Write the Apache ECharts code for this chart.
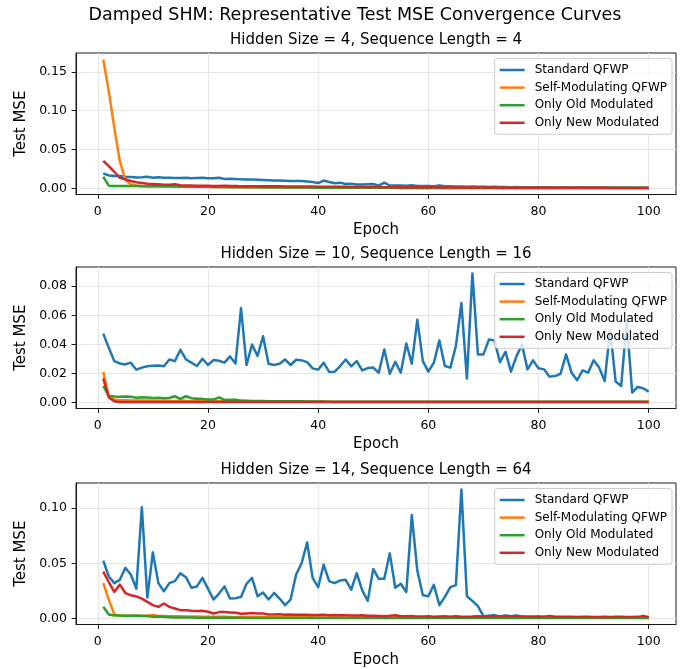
<!DOCTYPE html>
<html>
<head>
<meta charset="utf-8">
<script src="https://cdn.jsdelivr.net/npm/echarts@6/dist/echarts.min.js"></script>
<style>
  html, body { margin: 0; padding: 0; background: #ffffff; }
  #chart { width: 686px; height: 669px; }
</style>
</head>
<body>
<div id="chart"></div>
<script>
// Epoch index shared by every run
const epochs = Array.from({ length: 100 }, (_, i) => i + 1);

const seriesNames = ['Standard QFWP', 'Self-Modulating QFWP', 'Only Old Modulated', 'Only New Modulated'];
const panelTitles = [
  'Hidden Size = 4, Sequence Length = 4',
  'Hidden Size = 10, Sequence Length = 16',
  'Hidden Size = 14, Sequence Length = 64'
];
const xTicks = [0, 20, 40, 60, 80, 100];
const yTicks1 = [0, 0.05, 0.10, 0.15];
const yTicks2 = [0, 0.02, 0.04, 0.06, 0.08];
const yTicks3 = [0, 0.05, 0.10];

// ---- Hidden 4 / Seq 4 ----
const std1 = [
  0.0191, 0.0166, 0.0157, 0.0157, 0.0149, 0.0147, 0.0140, 0.0141, 0.0149, 0.0136,
  0.0143, 0.0136, 0.0137, 0.0132, 0.0133, 0.0137, 0.0128, 0.0133, 0.0136, 0.0131,
  0.0128, 0.0135, 0.0120, 0.0123, 0.0119, 0.0115, 0.0114, 0.0112, 0.0109, 0.0106,
  0.0104, 0.0102, 0.0100, 0.0097, 0.0094, 0.0093, 0.0095, 0.0088, 0.0082, 0.0068,
  0.0100, 0.0082, 0.0066, 0.0073, 0.0056, 0.0058, 0.0050, 0.0050, 0.0053, 0.0055,
  0.0034, 0.0072, 0.0036, 0.0035, 0.0036, 0.0033, 0.0038, 0.0030, 0.0031, 0.0030,
  0.0027, 0.0036, 0.0026, 0.0025, 0.0022, 0.0023, 0.0021, 0.0022, 0.0019, 0.0020,
  0.0018, 0.0021, 0.0017, 0.0016, 0.0015, 0.0016, 0.0014, 0.0015, 0.0013, 0.0013,
  0.0012, 0.0013, 0.0011, 0.0012, 0.0010, 0.0011, 0.0010, 0.0012, 0.0010, 0.0015,
  0.0011, 0.0009, 0.0010, 0.0009, 0.0008, 0.0009, 0.0008, 0.0008, 0.0007, 0.0007
];
const self1 = [
  0.1660, 0.1250, 0.0780, 0.0350, 0.0110, 0.0050, 0.0035, 0.0030, 0.0028, 0.0026,
  0.0025, 0.0024, 0.0023, 0.0022, 0.0022, 0.0021, 0.0020, 0.0020, 0.0019, 0.0019,
  0.0018, 0.0018, 0.0017, 0.0017, 0.0016, 0.0016, 0.0015, 0.0015, 0.0014, 0.0014,
  0.0013, 0.0013, 0.0012, 0.0012, 0.0011, 0.0011, 0.0010, 0.0010, 0.0009, 0.0009,
  0.0009, 0.0008, 0.0008, 0.0008, 0.0007, 0.0007, 0.0007, 0.0007, 0.0006, 0.0006,
  0.0006, 0.0006, 0.0006, 0.0005, 0.0005, 0.0005, 0.0005, 0.0005, 0.0005, 0.0005,
  0.0004, 0.0004, 0.0004, 0.0004, 0.0004, 0.0004, 0.0004, 0.0004, 0.0004, 0.0004,
  0.0003, 0.0003, 0.0003, 0.0003, 0.0003, 0.0003, 0.0003, 0.0003, 0.0003, 0.0003,
  0.0003, 0.0003, 0.0003, 0.0003, 0.0003, 0.0003, 0.0003, 0.0003, 0.0003, 0.0003,
  0.0003, 0.0003, 0.0003, 0.0003, 0.0003, 0.0003, 0.0003, 0.0003, 0.0003, 0.0003
];
const old1 = [
  0.0149, 0.0034, 0.0031, 0.0030, 0.0030, 0.0029, 0.0029, 0.0028, 0.0028, 0.0027,
  0.0026, 0.0025, 0.0025, 0.0024, 0.0023, 0.0023, 0.0022, 0.0021, 0.0021, 0.0020,
  0.0018, 0.0017, 0.0016, 0.0015, 0.0014, 0.0013, 0.0013, 0.0012, 0.0012, 0.0011,
  0.0011, 0.0010, 0.0010, 0.0010, 0.0009, 0.0009, 0.0009, 0.0009, 0.0008, 0.0008,
  0.0008, 0.0008, 0.0007, 0.0007, 0.0007, 0.0007, 0.0007, 0.0006, 0.0006, 0.0006,
  0.0006, 0.0006, 0.0006, 0.0006, 0.0005, 0.0005, 0.0005, 0.0005, 0.0005, 0.0005,
  0.0005, 0.0005, 0.0005, 0.0005, 0.0005, 0.0005, 0.0004, 0.0004, 0.0004, 0.0004,
  0.0004, 0.0004, 0.0004, 0.0004, 0.0004, 0.0004, 0.0004, 0.0004, 0.0004, 0.0004,
  0.0004, 0.0004, 0.0004, 0.0004, 0.0004, 0.0004, 0.0004, 0.0004, 0.0004, 0.0004,
  0.0004, 0.0004, 0.0004, 0.0004, 0.0004, 0.0004, 0.0004, 0.0004, 0.0004, 0.0004
];
const new1 = [
  0.0353, 0.0285, 0.0213, 0.0136, 0.0115, 0.0094, 0.0077, 0.0068, 0.0060, 0.0055,
  0.0051, 0.0047, 0.0045, 0.0052, 0.0040, 0.0036, 0.0035, 0.0034, 0.0034, 0.0033,
  0.0031, 0.0030, 0.0033, 0.0029, 0.0029, 0.0028, 0.0028, 0.0027, 0.0027, 0.0026,
  0.0026, 0.0025, 0.0025, 0.0024, 0.0024, 0.0023, 0.0023, 0.0022, 0.0022, 0.0021,
  0.0021, 0.0020, 0.0020, 0.0019, 0.0019, 0.0018, 0.0018, 0.0017, 0.0017, 0.0016,
  0.0016, 0.0015, 0.0015, 0.0014, 0.0014, 0.0014, 0.0013, 0.0013, 0.0012, 0.0012,
  0.0012, 0.0011, 0.0011, 0.0011, 0.0010, 0.0010, 0.0010, 0.0010, 0.0009, 0.0009,
  0.0009, 0.0009, 0.0008, 0.0008, 0.0008, 0.0008, 0.0008, 0.0007, 0.0007, 0.0007,
  0.0007, 0.0007, 0.0007, 0.0006, 0.0006, 0.0006, 0.0006, 0.0006, 0.0006, 0.0006,
  0.0006, 0.0006, 0.0005, 0.0005, 0.0005, 0.0005, 0.0005, 0.0005, 0.0005, 0.0005
];

// ---- Hidden 10 / Seq 16 ----
const std2 = [
  0.0474, 0.0376, 0.0285, 0.0269, 0.0262, 0.0274, 0.0226, 0.0240, 0.0249, 0.0253,
  0.0255, 0.0249, 0.0296, 0.0285, 0.0363, 0.0296, 0.0274, 0.0251, 0.0301, 0.0258,
  0.0292, 0.0287, 0.0274, 0.0317, 0.0269, 0.0650, 0.0258, 0.0399, 0.0320, 0.0456,
  0.0267, 0.0258, 0.0267, 0.0296, 0.0258, 0.0294, 0.0290, 0.0278, 0.0235, 0.0226,
  0.0274, 0.0210, 0.0212, 0.0251, 0.0296, 0.0249, 0.0285, 0.0221, 0.0237, 0.0240,
  0.0205, 0.0365, 0.0198, 0.0280, 0.0205, 0.0406, 0.0267, 0.0570, 0.0285, 0.0212,
  0.0274, 0.0426, 0.0251, 0.0240, 0.0388, 0.0684, 0.0164, 0.0888, 0.0331, 0.0331,
  0.0433, 0.0426, 0.0278, 0.0349, 0.0212, 0.0319, 0.0399, 0.0228, 0.0290, 0.0235,
  0.0228, 0.0178, 0.0182, 0.0198, 0.0331, 0.0205, 0.0153, 0.0221, 0.0205, 0.0290,
  0.0240, 0.0148, 0.0500, 0.0144, 0.0114, 0.0560, 0.0068, 0.0107, 0.0098, 0.0075
];
const self2 = [
  0.0210, 0.0042, 0.0020, 0.0016, 0.0015, 0.0014, 0.0014, 0.0013, 0.0013, 0.0012,
  0.0012, 0.0012, 0.0011, 0.0011, 0.0013, 0.0010, 0.0010, 0.0010, 0.0009, 0.0009,
  0.0009, 0.0008, 0.0008, 0.0008, 0.0008, 0.0007, 0.0007, 0.0007, 0.0007, 0.0006,
  0.0006, 0.0006, 0.0006, 0.0006, 0.0005, 0.0005, 0.0005, 0.0005, 0.0005, 0.0005,
  0.0005, 0.0005, 0.0004, 0.0004, 0.0004, 0.0004, 0.0004, 0.0004, 0.0004, 0.0004,
  0.0004, 0.0004, 0.0004, 0.0004, 0.0004, 0.0004, 0.0004, 0.0004, 0.0004, 0.0004,
  0.0004, 0.0004, 0.0004, 0.0004, 0.0004, 0.0004, 0.0004, 0.0004, 0.0004, 0.0004,
  0.0004, 0.0004, 0.0004, 0.0004, 0.0004, 0.0004, 0.0004, 0.0004, 0.0004, 0.0004,
  0.0004, 0.0004, 0.0004, 0.0004, 0.0004, 0.0004, 0.0004, 0.0004, 0.0004, 0.0004,
  0.0004, 0.0004, 0.0004, 0.0004, 0.0004, 0.0004, 0.0004, 0.0004, 0.0004, 0.0004
];
const old2 = [
  0.0114, 0.0046, 0.0042, 0.0040, 0.0041, 0.0039, 0.0033, 0.0036, 0.0034, 0.0031,
  0.0033, 0.0029, 0.0031, 0.0043, 0.0025, 0.0043, 0.0030, 0.0026, 0.0025, 0.0021,
  0.0020, 0.0035, 0.0018, 0.0019, 0.0019, 0.0013, 0.0012, 0.0011, 0.0010, 0.0010,
  0.0009, 0.0009, 0.0009, 0.0008, 0.0008, 0.0008, 0.0008, 0.0007, 0.0007, 0.0007,
  0.0007, 0.0006, 0.0006, 0.0006, 0.0006, 0.0006, 0.0006, 0.0005, 0.0005, 0.0005,
  0.0005, 0.0005, 0.0005, 0.0005, 0.0005, 0.0005, 0.0005, 0.0005, 0.0005, 0.0005,
  0.0005, 0.0005, 0.0005, 0.0005, 0.0005, 0.0005, 0.0005, 0.0005, 0.0005, 0.0005,
  0.0005, 0.0005, 0.0005, 0.0005, 0.0005, 0.0005, 0.0005, 0.0005, 0.0005, 0.0005,
  0.0005, 0.0005, 0.0005, 0.0005, 0.0005, 0.0005, 0.0005, 0.0005, 0.0005, 0.0005,
  0.0005, 0.0005, 0.0005, 0.0005, 0.0005, 0.0005, 0.0005, 0.0005, 0.0005, 0.0005
];
const new2 = [
  0.0165, 0.0035, 0.0008, 0.0004, 0.0004, 0.0003, 0.0003, 0.0003, 0.0003, 0.0003,
  0.0003, 0.0003, 0.0003, 0.0003, 0.0003, 0.0003, 0.0003, 0.0003, 0.0003, 0.0003,
  0.0003, 0.0003, 0.0003, 0.0003, 0.0003, 0.0003, 0.0003, 0.0003, 0.0003, 0.0003,
  0.0003, 0.0003, 0.0003, 0.0003, 0.0003, 0.0003, 0.0003, 0.0003, 0.0003, 0.0003,
  0.0003, 0.0003, 0.0003, 0.0003, 0.0003, 0.0003, 0.0003, 0.0003, 0.0003, 0.0003,
  0.0003, 0.0003, 0.0003, 0.0003, 0.0003, 0.0003, 0.0003, 0.0003, 0.0003, 0.0003,
  0.0003, 0.0003, 0.0003, 0.0003, 0.0003, 0.0003, 0.0003, 0.0003, 0.0003, 0.0003,
  0.0003, 0.0003, 0.0003, 0.0003, 0.0003, 0.0003, 0.0003, 0.0003, 0.0003, 0.0003,
  0.0003, 0.0003, 0.0003, 0.0003, 0.0003, 0.0003, 0.0003, 0.0003, 0.0003, 0.0003,
  0.0003, 0.0003, 0.0003, 0.0003, 0.0003, 0.0003, 0.0003, 0.0003, 0.0003, 0.0003
];

// ---- Hidden 14 / Seq 64 ----
const std3 = [
  0.0524, 0.0380, 0.0320, 0.0350, 0.0458, 0.0398, 0.0270, 0.1009, 0.0189, 0.0599,
  0.0320, 0.0246, 0.0320, 0.0338, 0.0410, 0.0374, 0.0278, 0.0290, 0.0368, 0.0270,
  0.0171, 0.0225, 0.0290, 0.0180, 0.0183, 0.0195, 0.0314, 0.0368, 0.0201, 0.0234,
  0.0171, 0.0231, 0.0180, 0.0120, 0.0171, 0.0398, 0.0500, 0.0689, 0.0368, 0.0284,
  0.0488, 0.0338, 0.0320, 0.0344, 0.0350, 0.0260, 0.0410, 0.0254, 0.0159, 0.0449,
  0.0359, 0.0359, 0.0590, 0.0278, 0.0314, 0.0240, 0.0937, 0.0434, 0.0210, 0.0201,
  0.0305, 0.0120, 0.0195, 0.0284, 0.0302, 0.1170, 0.0201, 0.0159, 0.0111, 0.0020,
  0.0025, 0.0030, 0.0018, 0.0027, 0.0020, 0.0026, 0.0018, 0.0015, 0.0014, 0.0013,
  0.0012, 0.0013, 0.0011, 0.0010, 0.0011, 0.0009, 0.0009, 0.0008, 0.0008, 0.0008,
  0.0007, 0.0007, 0.0007, 0.0006, 0.0006, 0.0006, 0.0006, 0.0005, 0.0005, 0.0005
];
const self3 = [
  0.0320, 0.0170, 0.0036, 0.0027, 0.0025, 0.0024, 0.0024, 0.0023, 0.0024, 0.0030,
  0.0022, 0.0021, 0.0020, 0.0019, 0.0019, 0.0018, 0.0017, 0.0017, 0.0016, 0.0015,
  0.0015, 0.0014, 0.0014, 0.0013, 0.0013, 0.0013, 0.0012, 0.0012, 0.0012, 0.0011,
  0.0011, 0.0011, 0.0011, 0.0010, 0.0010, 0.0010, 0.0010, 0.0010, 0.0010, 0.0009,
  0.0009, 0.0009, 0.0009, 0.0009, 0.0009, 0.0008, 0.0008, 0.0008, 0.0008, 0.0008,
  0.0008, 0.0008, 0.0008, 0.0008, 0.0007, 0.0007, 0.0007, 0.0007, 0.0007, 0.0007,
  0.0007, 0.0007, 0.0007, 0.0007, 0.0007, 0.0007, 0.0007, 0.0007, 0.0007, 0.0007,
  0.0007, 0.0007, 0.0007, 0.0007, 0.0007, 0.0007, 0.0007, 0.0007, 0.0007, 0.0007,
  0.0007, 0.0007, 0.0007, 0.0007, 0.0007, 0.0007, 0.0007, 0.0007, 0.0007, 0.0007,
  0.0007, 0.0007, 0.0007, 0.0007, 0.0007, 0.0007, 0.0007, 0.0007, 0.0007, 0.0007
];
const old3 = [
  0.0105, 0.0036, 0.0027, 0.0026, 0.0025, 0.0025, 0.0026, 0.0022, 0.0021, 0.0015,
  0.0018, 0.0016, 0.0010, 0.0009, 0.0009, 0.0008, 0.0008, 0.0007, 0.0007, 0.0006,
  0.0006, 0.0005, 0.0005, 0.0005, 0.0005, 0.0005, 0.0004, 0.0004, 0.0004, 0.0004,
  0.0004, 0.0004, 0.0004, 0.0004, 0.0004, 0.0003, 0.0003, 0.0003, 0.0003, 0.0003,
  0.0003, 0.0003, 0.0003, 0.0003, 0.0003, 0.0003, 0.0003, 0.0003, 0.0003, 0.0003,
  0.0003, 0.0003, 0.0003, 0.0003, 0.0003, 0.0003, 0.0003, 0.0003, 0.0003, 0.0003,
  0.0003, 0.0003, 0.0003, 0.0003, 0.0003, 0.0003, 0.0003, 0.0003, 0.0003, 0.0003,
  0.0003, 0.0003, 0.0003, 0.0003, 0.0003, 0.0003, 0.0003, 0.0003, 0.0003, 0.0003,
  0.0003, 0.0003, 0.0003, 0.0003, 0.0003, 0.0003, 0.0003, 0.0003, 0.0003, 0.0003,
  0.0003, 0.0003, 0.0003, 0.0003, 0.0003, 0.0003, 0.0003, 0.0003, 0.0003, 0.0003
];
const new3 = [
  0.0425, 0.0330, 0.0240, 0.0308, 0.0230, 0.0210, 0.0200, 0.0180, 0.0150, 0.0120,
  0.0105, 0.0135, 0.0105, 0.0090, 0.0075, 0.0075, 0.0069, 0.0067, 0.0069, 0.0060,
  0.0045, 0.0057, 0.0057, 0.0054, 0.0051, 0.0042, 0.0045, 0.0048, 0.0045, 0.0045,
  0.0036, 0.0035, 0.0037, 0.0034, 0.0036, 0.0033, 0.0032, 0.0034, 0.0031, 0.0030,
  0.0032, 0.0029, 0.0030, 0.0028, 0.0029, 0.0027, 0.0026, 0.0028, 0.0025, 0.0024,
  0.0022, 0.0020, 0.0023, 0.0029, 0.0020, 0.0019, 0.0021, 0.0018, 0.0017, 0.0019,
  0.0016, 0.0018, 0.0020, 0.0016, 0.0019, 0.0015, 0.0016, 0.0017, 0.0020, 0.0018,
  0.0017, 0.0019, 0.0016, 0.0021, 0.0019, 0.0017, 0.0018, 0.0015, 0.0016, 0.0017,
  0.0015, 0.0022, 0.0016, 0.0014, 0.0016, 0.0015, 0.0013, 0.0014, 0.0015, 0.0012,
  0.0013, 0.0014, 0.0013, 0.0016, 0.0014, 0.0013, 0.0012, 0.0014, 0.0023, 0.0010
];

const panels = [
  { runs: [std1, self1, old1, new1], yTicks: yTicks1 },
  { runs: [std2, self2, old2, new2], yTicks: yTicks2 },
  { runs: [std3, self3, old3, new3], yTicks: yTicks3 }
];

const colors = ['#1f77b4', '#ff7f0e', '#2ca02c', '#d62728'];
const FONT = 'DejaVu Sans';
const INK = '#000000';
const GRID_LINE = '#e6e6e6';

// Panel boxes in pixels
const gridTops = [53, 267, 483];
const gridHeight = 141.5;
const gridLeft = 76;
const gridRight = 10;

// Auto-scaled limits with a 5% margin on each side
function paddedRange(lo, hi) {
  const pad = (hi - lo) * 0.05;
  return [lo - pad, hi + pad];
}
const xRange = paddedRange(1, 100);

const option = {
  animation: false,
  backgroundColor: '#ffffff',
  textStyle: { fontFamily: FONT, color: INK },
  title: [
    {
      text: 'Damped SHM: Representative Test MSE Convergence Curves',
      left: 350, top: 1, textAlign: 'center',
      textStyle: { fontFamily: FONT, fontSize: 17.5, fontWeight: 'normal', color: INK, lineHeight: 18 }
    }
  ].concat(panelTitles.map((t, i) => ({
    text: t,
    left: gridLeft + (686 - gridLeft - gridRight) / 2,
    top: gridTops[i] - 20,
    textAlign: 'center',
    padding: 0,
    textStyle: { fontFamily: FONT, fontSize: 15, fontWeight: 'normal', color: INK, lineHeight: 15 }
  }))),
  grid: gridTops.map(top => ({
    left: gridLeft, right: gridRight, top: top, height: gridHeight,
    show: true, borderColor: '#1a1a1a', borderWidth: 1, backgroundColor: 'transparent',
    containLabel: false
  })),
  legend: gridTops.map(top => ({
    data: seriesNames,
    orient: 'vertical',
    right: 14,
    top: top + 5.5,
    icon: 'rect',
    itemWidth: 25,
    itemHeight: 2.5,
    itemGap: 2.6,
    padding: [4, 5, 4, 5],
    backgroundColor: 'rgba(255,255,255,0.8)',
    borderColor: '#cccccc',
    borderWidth: 1,
    borderRadius: 3,
    selectedMode: false,
    textStyle: { fontFamily: FONT, fontSize: 12, color: INK, lineHeight: 15, padding: [0, 0, 0, 5] }
  })),
  xAxis: gridTops.map((_, i) => ({
    type: 'value',
    gridIndex: i,
    min: xRange[0],
    max: xRange[1],
    name: 'Epoch',
    nameLocation: 'middle',
    nameGap: 28,
    nameTextStyle: { fontFamily: FONT, fontSize: 15, color: INK },
    axisLine: { show: true, onZero: false, lineStyle: { color: '#1a1a1a', width: 1 } },
    axisTick: { show: true, inside: false, length: 4.4, customValues: xTicks, lineStyle: { color: '#1a1a1a', width: 1 } },
    axisLabel: { show: true, margin: 10.5, customValues: xTicks, fontFamily: FONT, fontSize: 12.5, color: INK,
                 formatter: v => String(Math.round(v)) },
    splitLine: { show: true, lineStyle: { color: GRID_LINE, width: 1 } }
  })),
  yAxis: panels.map((p, i) => {
    let lo = Infinity, hi = -Infinity;
    p.runs.forEach(r => r.forEach(v => { lo = Math.min(lo, v); hi = Math.max(hi, v); }));
    const yr = paddedRange(lo, hi);
    return {
      type: 'value',
      gridIndex: i,
      min: yr[0],
      max: yr[1],
      name: 'Test MSE',
      nameLocation: 'middle',
      nameGap: 46,
      nameRotate: 90,
      nameTextStyle: { fontFamily: FONT, fontSize: 15, color: INK },
      axisLine: { show: true, onZero: false, lineStyle: { color: '#1a1a1a', width: 1 } },
      axisTick: { show: true, inside: false, length: 4.4, customValues: p.yTicks, lineStyle: { color: '#1a1a1a', width: 1 } },
      axisLabel: { show: true, margin: 9, customValues: p.yTicks, fontFamily: FONT, fontSize: 12.5, color: INK,
                   formatter: v => v.toFixed(2) },
      splitLine: { show: true, lineStyle: { color: GRID_LINE, width: 1 } }
    };
  }),
  series: []
};

panels.forEach((p, gi) => {
  p.runs.forEach((vals, si) => {
    option.series.push({
      name: seriesNames[si],
      type: 'line',
      xAxisIndex: gi,
      yAxisIndex: gi,
      data: epochs.map((e, k) => [e, vals[k]]),
      showSymbol: false,
      symbol: 'none',
      clip: true,
      color: colors[si],
      lineStyle: { color: colors[si], width: 2.5, join: 'round' },
      z: 2 + si
    });
  });
});

const chart = echarts.init(document.getElementById('chart'), null, { renderer: 'canvas' });
chart.setOption(option);
</script>
</body>
</html>
